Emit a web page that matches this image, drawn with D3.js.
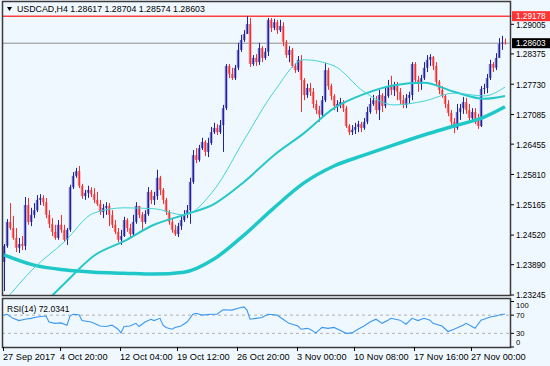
<!DOCTYPE html>
<html>
<head>
<meta charset="utf-8">
<script src="https://cdn.jsdelivr.net/npm/d3@7"></script>
<style>
body{margin:0;background:#f0f8ff;}
svg{display:block;font-family:"Liberation Sans",Arial,sans-serif;font-size:8.5px;}
</style>
</head>
<body>
<svg id="chart" width="550" height="366"></svg>
<script>
// USDCAD H4 candles (open = previous close)
var symbol = "USDCAD,H4";
var lastBar = [1.28617, 1.28704, 1.28574, 1.28603];
var firstOpen = 1.2395;
var closes = [1.2429,1.2480,1.2467,1.2446,1.2425,1.2433,1.2429,1.2516,1.2480,1.2495,
1.2505,1.2527,1.2531,1.2522,1.2495,1.2476,1.2459,1.2446,1.2474,1.2463,
1.2442,1.2463,1.2554,1.2578,1.2588,1.2557,1.2535,1.2542,1.2548,1.2539,
1.2527,1.2518,1.2501,1.2510,1.2514,1.2495,1.2474,1.2459,1.2442,1.2450,
1.2484,1.2467,1.2454,1.2480,1.2514,1.2495,1.2480,1.2497,1.2544,1.2527,
1.2535,1.2574,1.2548,1.2527,1.2501,1.2480,1.2463,1.2454,1.2471,1.2484,
1.2495,1.2505,1.2565,1.2622,1.2612,1.2637,1.2650,1.2629,1.2648,1.2671,
1.2680,1.2671,1.2686,1.2722,1.2812,1.2795,1.2786,1.2808,1.2846,1.2867,
1.2880,1.2901,1.2816,1.2829,1.2820,1.2850,1.2829,1.2842,1.2910,1.2893,
1.2905,1.2888,1.2897,1.2863,1.2835,1.2846,1.2812,1.2803,1.2825,1.2782,
1.2750,1.2765,1.2757,1.2731,1.2718,1.2708,1.2739,1.2803,1.2769,1.2748,
1.2727,1.2731,1.2735,1.2722,1.2684,1.2671,1.2676,1.2682,1.2688,1.2680,
1.2693,1.2714,1.2731,1.2739,1.2718,1.2750,1.2727,1.2748,1.2769,1.2761,
1.2769,1.2757,1.2739,1.2729,1.2744,1.2750,1.2816,1.2782,1.2774,1.2786,
1.2808,1.2825,1.2831,1.2812,1.2778,1.2761,1.2748,1.2731,1.2712,1.2693,
1.2680,1.2714,1.2722,1.2735,1.2718,1.2701,1.2714,1.2697,1.2684,1.2763,
1.2765,1.2786,1.2816,1.2808,1.2829,1.2859,1.28617,1.28603];
var highs = [1.2433,1.2486,1.2520,1.2493,1.2467,1.2446,1.2450,1.2533,1.2531,1.2510,
1.2520,1.2537,1.2539,1.2537,1.2531,1.2505,1.2488,1.2474,1.2484,1.2495,
1.2474,1.2467,1.2559,1.2586,1.2595,1.2599,1.2561,1.2548,1.2557,1.2554,
1.2552,1.2544,1.2527,1.2518,1.2522,1.2520,1.2505,1.2484,1.2467,1.2463,
1.2491,1.2488,1.2476,1.2495,1.2522,1.2505,1.2501,1.2505,1.2554,1.2548,
1.2544,1.2591,1.2578,1.2552,1.2531,1.2505,1.2488,1.2474,1.2478,1.2493,
1.2505,1.2516,1.2574,1.2633,1.2637,1.2644,1.2659,1.2654,1.2659,1.2682,
1.2691,1.2688,1.2697,1.2729,1.2816,1.2816,1.2808,1.2814,1.2861,1.2878,
1.2888,1.29178,1.2914,1.2835,1.2837,1.2861,1.2854,1.2850,1.2914,1.2914,
1.2912,1.2910,1.2910,1.2905,1.2867,1.2854,1.2850,1.2818,1.2833,1.2835,
1.2786,1.2774,1.2776,1.2765,1.2739,1.2727,1.2748,1.2818,1.2808,1.2774,
1.2752,1.2739,1.2744,1.2739,1.2727,1.2688,1.2686,1.2691,1.2695,1.2693,
1.2701,1.2725,1.2744,1.2750,1.2748,1.2761,1.2754,1.2765,1.2782,1.2791,
1.2778,1.2778,1.2765,1.2750,1.2752,1.2757,1.2820,1.2820,1.2791,1.2793,
1.2820,1.2835,1.2837,1.2833,1.2820,1.2782,1.2769,1.2752,1.2739,1.2718,
1.2701,1.2731,1.2731,1.2746,1.2744,1.2731,1.2722,1.2722,1.2710,1.2769,
1.2774,1.2795,1.2825,1.2820,1.2839,1.2871,1.2876,1.28704];
var lows = [1.2333,1.2425,1.2463,1.2442,1.2416,1.2414,1.2420,1.2420,1.2474,1.2471,
1.2488,1.2501,1.2516,1.2514,1.2488,1.2467,1.2450,1.2442,1.2442,1.2457,
1.2437,1.2431,1.2459,1.2550,1.2574,1.2552,1.2529,1.2527,1.2531,1.2533,
1.2520,1.2514,1.2495,1.2488,1.2495,1.2471,1.2467,1.2454,1.2437,1.2431,
1.2448,1.2459,1.2448,1.2450,1.2476,1.2488,1.2463,1.2476,1.2493,1.2518,
1.2516,1.2527,1.2537,1.2518,1.2495,1.2474,1.2457,1.2450,1.2448,1.2463,
1.2480,1.2488,1.2476,1.2561,1.2605,1.2608,1.2633,1.2620,1.2618,1.2644,
1.2667,1.2665,1.2667,1.2629,1.2718,1.2786,1.2782,1.2782,1.2803,1.2842,
1.2863,1.2880,1.2810,1.2812,1.2812,1.2814,1.2820,1.2825,1.2833,1.2884,
1.2888,1.2880,1.2884,1.2854,1.2829,1.2820,1.2808,1.2797,1.2799,1.2714,
1.2739,1.2744,1.2748,1.2722,1.2710,1.2693,1.2705,1.2735,1.2761,1.2739,
1.2718,1.2714,1.2722,1.2714,1.2680,1.2665,1.2665,1.2667,1.2671,1.2671,
1.2676,1.2688,1.2710,1.2727,1.2710,1.2697,1.2714,1.2722,1.2744,1.2750,
1.2748,1.2739,1.2731,1.2722,1.2722,1.2731,1.2739,1.2774,1.2757,1.2761,
1.2782,1.2799,1.2812,1.2803,1.2769,1.2752,1.2744,1.2722,1.2705,1.2684,
1.2669,1.2676,1.2697,1.2710,1.2710,1.2693,1.2693,1.2688,1.2678,1.2682,
1.2752,1.2754,1.2782,1.2799,1.2803,1.2829,1.2846,1.28574];

// moving averages, sampled every 10 bars
var maIdx  = [0,10,20,30,40,50,60,70,80,90,100,110,120,130,140,150,160,167];
var maFast = [1.2310,1.2382,1.2437,1.2499,1.2510,1.2508,1.2495,1.2548,1.2654,1.2757,1.2825,1.2812,1.2757,1.2729,1.2737,1.2754,1.2748,1.2767];
var maMid  = [1.2250,1.2288,1.2348,1.2408,1.2439,1.2474,1.2495,1.2518,1.2565,1.2622,1.2669,1.2722,1.2752,1.2771,1.2776,1.2757,1.2742,1.2748];
var maSlow = [1.2410,1.2388,1.2378,1.2373,1.2371,1.2369,1.2373,1.2401,1.2452,1.2510,1.2563,1.2599,1.2622,1.2644,1.2665,1.2684,1.2703,1.2725];

// RSI(14)
var rsiIdx = [0,1,3,5,7,9,11,14,15,17,19,21,22,23,25,26,29,30,32,34,36,38,39,40,42,44,45,47,49,50,
52,53,54,56,57,59,61,63,64,66,69,71,73,76,78,80,81,82,84,86,88,91,93,95,98,99,101,102,104,106,
108,110,112,114,116,118,120,122,124,126,128,129,132,134,136,138,140,142,143,146,148,150,153,154,156,157,159,160,162,164,166,167];
var rsiVal = [70,72,63,58,61,63,66,68,55,52,53,48,68,72,71,58,55,52,46,45,48,39,31,45,46,52,45,55,61,58,
63,48,43,39,43,46,55,72,74,70,72,72,82,81,85,88,81,61,63,65,72,70,61,52,46,39,41,39,31,43,
41,43,37,30,31,39,46,55,61,52,59,63,59,50,63,58,63,59,52,46,34,39,48,52,45,41,59,61,66,68,72,72.0341];

var priceTicks = [1.29005,1.28375,1.27730,1.27085,1.26455,1.25810,1.25165,1.24520,1.23890,1.23245];
var highLine = 1.29178;
var rsiTicks = [100,70,30,0];
var rsiLevels = [70,30];
var timeBars = [0,19,39,58,78,98,117,137,156];
var timeLabels = ["27 Sep 2017","4 Oct 20:00","12 Oct 04:00","19 Oct 12:00","26 Oct 20:00","3 Nov 00:00","10 Nov 08:00","17 Nov 16:00","27 Nov 00:00"];

var svg = d3.select("#chart");
var main = {left:2, right:511, top:1, bottom:296};
var sub = {top:298, bottom:347};

var x = d3.scaleLinear().domain([0, closes.length-1]).range([4, 505]);
var y = d3.scaleLinear().domain([1.23245, 1.29005]).range([295, 24.3]);
var ry = d3.scaleLinear().domain([0, 100]).range([347, 301.5]);

svg.append("rect").attr("width",550).attr("height",366).attr("fill","#f0f8ff");

var defs = svg.append("defs");
defs.append("clipPath").attr("id","clipMain").append("rect")
	.attr("x",main.left).attr("y",main.top).attr("width",main.right-main.left).attr("height",main.bottom-main.top);
defs.append("clipPath").attr("id","clipSub").append("rect")
	.attr("x",main.left).attr("y",sub.top).attr("width",main.right-main.left).attr("height",sub.bottom-sub.top);

var g = svg.append("g").attr("clip-path","url(#clipMain)");

// price lines
g.append("line").attr("x1",main.left).attr("x2",main.right)
	.attr("y1",y(lastBar[3])).attr("y2",y(lastBar[3]))
	.attr("stroke","#8a8a8a").attr("stroke-width",1);
g.append("line").attr("x1",main.left).attr("x2",main.right)
	.attr("y1",y(highLine)).attr("y2",y(highLine))
	.attr("stroke","#ff4040").attr("stroke-width",1.5);

// candles
var bars = closes.map(function(c,i){
	var o = i==0 ? firstOpen : closes[i-1];
	return {i:i, o:o, c:c, h:Math.max(highs[i],o,c), l:Math.min(lows[i],o,c), up:c>=o};
});

var cg = g.selectAll("g.bar").data(bars).enter().append("g").attr("class","bar");
cg.append("rect")
	.attr("x", d => Math.round(x(d.i))-1.2)
	.attr("width", 2.6)
	.attr("y", d => y(Math.max(d.o,d.c)))
	.attr("height", d => Math.max(1, y(Math.min(d.o,d.c)) - y(Math.max(d.o,d.c))))
	.attr("fill", d => d.up ? "#6a6ac6" : "#f47474");
cg.append("line")
	.attr("x1", d => Math.round(x(d.i))+0.5).attr("x2", d => Math.round(x(d.i))+0.5)
	.attr("y1", d => y(d.h)).attr("y2", d => y(d.l))
	.attr("stroke", d => d.up ? "#22229a" : "#f23030").attr("stroke-width",1);

// moving averages
function maLine(vals){
	return d3.line().x((d,k) => x(maIdx[k])).y(d => y(d)).curve(d3.curveMonotoneX)(vals);
}
g.append("path").attr("d",maLine(maSlow)).attr("fill","none").attr("stroke","#1fc8c8").attr("stroke-width",3.5);
g.append("path").attr("d",maLine(maMid)).attr("fill","none").attr("stroke","#25c8c8").attr("stroke-width",2);
g.append("path").attr("d",maLine(maFast)).attr("fill","none").attr("stroke","#44d4d4").attr("stroke-width",1);

// frames
svg.append("rect").attr("x",main.left+0.5).attr("y",main.top+0.5)
	.attr("width",main.right-main.left-1).attr("height",main.bottom-main.top-1)
	.attr("fill","none").attr("stroke","#3a3a3a").attr("stroke-width",1.5);

// header
svg.append("path").attr("d","M7,7L12,7L9.5,11Z").attr("fill","#000");
svg.append("text").attr("x",17).attr("y",12).attr("fill","#000").style("font-size","8.8px")
	.text(symbol + "  " + lastBar.map(v => v.toFixed(5)).join(" "));

// price axis
var pa = svg.append("g");
pa.selectAll("line").data(priceTicks).enter().append("line")
	.attr("x1",main.right).attr("x2",main.right+3)
	.attr("y1",d=>y(d)).attr("y2",d=>y(d)).attr("stroke","#000");
pa.selectAll("text").data(priceTicks).enter().append("text")
	.attr("x",main.right+5).attr("y",d=>y(d)+0.5).attr("dy","0.35em").attr("fill","#000")
	.style("font-size","8.2px")
	.text(d=>d.toFixed(5));

function priceTag(v, bg){
	var t = svg.append("g").attr("transform","translate(0,"+y(v)+")");
	t.append("rect").attr("x",main.right+1).attr("y",-5).attr("width",38).attr("height",10).attr("fill",bg);
	t.append("text").attr("x",main.right+5).attr("dy","0.35em").attr("fill","#fff").style("font-size","8.2px").text(v.toFixed(5));
}
priceTag(highLine, "#ff3333");
priceTag(lastBar[3], "#000");

// RSI panel
var rg = svg.append("g").attr("clip-path","url(#clipSub)");
rg.selectAll("line.lvl").data(rsiLevels).enter().append("line").attr("class","lvl")
	.attr("x1",main.left).attr("x2",main.right)
	.attr("y1",d=>ry(d)).attr("y2",d=>ry(d))
	.attr("stroke","#b0b0b0").attr("stroke-dasharray","3,3");
rg.append("path")
	.attr("d", d3.line().x((d,k)=>x(rsiIdx[k])).y(d=>ry(d))(rsiVal))
	.attr("fill","none").attr("stroke","#3b98f2").attr("stroke-width",1.1);

svg.append("rect").attr("x",main.left+0.5).attr("y",sub.top+0.5)
	.attr("width",main.right-main.left-1).attr("height",sub.bottom-sub.top)
	.attr("fill","none").attr("stroke","#3a3a3a").attr("stroke-width",1.5);

svg.append("text").attr("x",7).attr("y",312).attr("fill","#000")
	.text("RSI(14) " + rsiVal[rsiVal.length-1].toFixed(4));

var ra = svg.append("g");
ra.selectAll("line").data(rsiTicks).enter().append("line")
	.attr("x1",main.right).attr("x2",main.right+3)
	.attr("y1",d=>ry(d)).attr("y2",d=>ry(d)).attr("stroke","#000");
ra.selectAll("text").data(rsiTicks).enter().append("text")
	.attr("x",main.right+5)
	.attr("y",d=>Math.min(Math.max(ry(d), sub.top+7.5), sub.bottom-5))
	.attr("dy","0.35em").attr("fill","#000")
	.style("font-size","7.6px")
	.text(d=>d);

// time axis
var ta = svg.append("g");
ta.selectAll("line").data(timeBars).enter().append("line")
	.attr("x1",d=>Math.round(x(d))-0.5).attr("x2",d=>Math.round(x(d))-0.5)
	.attr("y1",sub.bottom).attr("y2",sub.bottom+4).attr("stroke","#000");
ta.selectAll("text").data(timeBars).enter().append("text")
	.attr("x",d=>Math.round(x(d))-1).attr("y",359.5).attr("fill","#000")
	.style("font-size","9.2px")
	.text((d,k)=>timeLabels[k]);
</script>
</body>
</html>
